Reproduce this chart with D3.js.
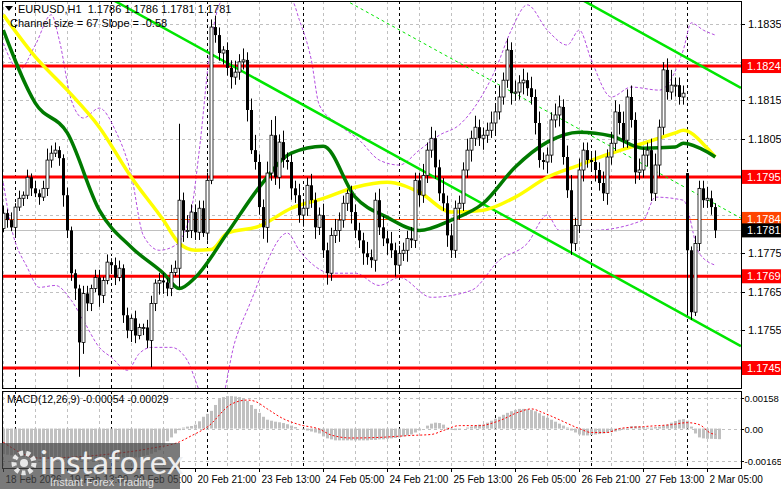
<!DOCTYPE html>
<html><head><meta charset="utf-8">
<script src="https://cdn.jsdelivr.net/npm/d3@7"></script>
<style>body{margin:0;background:#fff}svg{display:block;font-family:"Liberation Sans",Arial,sans-serif}</style>
</head><body><svg id="c" width="781" height="489"></svg>
<script>
// ---- data ----
const closes=[1.17855,1.17837,1.17818,1.17871,1.17894,1.17902,1.17949,1.17920,1.17907,1.17897,1.17920,1.17994,1.18012,1.18020,1.17999,1.17902,1.17810,1.17698,1.17658,1.17517,1.17645,1.17619,1.17658,1.17687,1.17640,1.17679,1.17727,1.17719,1.17687,1.17711,1.17588,1.17548,1.17580,1.17535,1.17556,1.17556,1.17522,1.17619,1.17672,1.17679,1.17674,1.17658,1.17700,1.17711,1.17889,1.17810,1.17810,
1.17858,1.17805,1.17868,1.17803,1.17941,1.18342,1.18321,1.18274,1.18282,1.18235,1.18211,1.18224,1.18251,1.18256,1.18125,1.18020,1.17989,1.17871,1.17818,1.17960,1.18059,1.17949,1.18041,1.17994,1.17989,1.17920,1.17902,1.17850,1.17868,1.17928,1.17889,1.17818,1.17850,1.17758,1.17698,1.17797,1.17810,1.17837,1.17881,1.17907,1.17858,1.17810,1.17784,1.17750,1.17740,
1.17732,1.17889,1.17818,1.17789,1.17776,1.17758,1.17719,1.17750,1.17758,1.17789,1.17784,1.17941,1.17902,1.17954,1.18020,1.18051,1.17975,1.17907,1.17881,1.17797,1.17758,1.17868,1.17881,1.17968,1.18020,1.18051,1.18080,1.18051,1.18059,1.18072,1.18091,1.18120,1.18159,1.18203,1.18282,1.18169,1.18172,1.18196,1.18203,1.18182,1.18159,1.18091,1.17994,1.17989,1.18007,
1.18099,1.18112,1.18133,1.18002,1.17915,1.17776,1.17823,1.17968,1.18020,1.17994,1.17989,1.17968,1.17934,1.17907,1.18002,1.18038,1.18120,1.18091,1.18046,1.18159,1.18099,1.17962,1.17968,1.18007,1.18020,1.17907,1.17981,1.18080,1.18230,1.18172,1.18190,1.18190,1.18159,1.18169,
1.17758,1.17596,1.17776,1.17920,1.17889,1.17894,1.17871,1.17810];
const firstOpen=1.17815, weekendIndex=171, weekendOpen=1.17960;
const wickUp=[2,1,2,1,2,1,2,1,2,1, 2,3,2,2,1,1,2,1,1,1, 2,2,1,2,2,1,2,1,2,2, 1,2,1,2,1,1,2,2,1,2, 2,1,2,2,20,2,4,
2,2,2,2,2,2,3,2,1,2, 2,3,2,3,2,3,4,2,2,3, 4,5,2,3,2,2,2,3,2,2, 3,2,2,3,2,2,3,2,2,1, 2,2,2,2,3,2,2,3,3,2,
3,2,2,2,2,3,2,2,3,2, 3,2,2,4,2,3,2,2,2,3, 2,3,2,2,2,3,2,3,2,3, 2,3,2,3,2,3,2,3,2,2, 2,3,3,2,3,4,2,3,2,2,
2,3,2,3,2,3,3,2,3,2, 3,2,3,2,2,3,3,2,2,3, 4,2,2,2,0,1,2,2,2,3, 2,1];
const wickDn=[1,2,1,2,1,2,1,2,1,2, 1,2,2,1,2,3,2,2,3,9, 3,2,2,1,3,2,1,2,2,1, 2,2,3,2,1,2,2,7,2,3, 3,2,2,1,5,3,2,
2,2,2,1,2,1,2,2,3,2, 3,2,2,2,3,1,2,2,3,4, 2,2,3,2,2,3,2,2,3,2, 2,3,2,2,3,2,2,3,2,2, 3,2,2,3,2,2,3,2,2,3,
2,3,2,2,3,2,2,3,2,2, 2,3,2,2,3,2,2,3,2,2, 3,2,2,3,2,2,3,2,2,2, 3,2,2,3,2,2,3,2,2,3, 2,2,3,2,2,3,2,2,3,2,
2,3,2,2,3,2,2,3,2,2, 2,3,2,2,3,2,2,3,2,2, 2,3,2,2,17,2,1,2,2,2, 2,2];
const maGreen=[[0,1.18334],[8,1.18143],[16,1.18065],[24,1.17863],[32,1.17766],[40,1.17698],[44,1.17658],[48,1.17687],[56,1.17803],[64,1.17923],[72,1.18012],[80,1.18030],[88,1.17897],[96,1.17844],[104,1.17810],[112,1.17837],[120,1.17881],[128,1.17976],[136,1.18041],[144,1.18067],[152,1.18057],[160,1.18025],[168,1.18028],[170,1.18038],[176,1.18015],[178,1.18002]];
const maYellow=[[0,1.18374],[8,1.18264],[16,1.18177],[24,1.18080],[32,1.17949],[40,1.17837],[44,1.17776],[48,1.17758],[52,1.17760],[56,1.17803],[64,1.17821],[72,1.17868],[80,1.17894],[88,1.17923],[96,1.17936],[104,1.17910],[112,1.17858],[120,1.17863],[128,1.17897],[136,1.17949],[144,1.17981],[152,1.18012],[160,1.18038],[168,1.18065],[170,1.18072],[176,1.18025],[178,1.18002]];
const bandUp=[[0,1.18300],[4,1.18230],[8,1.18295],[12,1.18374],[14,1.18308],[17,1.18151],[20,1.18104],[24,1.18130],[28,1.18072],[32,1.17955],[35,1.17797],[39,1.17758],[43,1.17771],[47,1.17863],[49,1.18020],[52,1.18308],[55,1.18413],[72,1.18413],[74,1.18361],[77,1.18256],[79,1.18138],[84,1.18086],[89,1.18046],[94,1.17994],[99,1.17981],[104,1.18020],[109,1.18059],[114,1.18086],[119,1.18151],[123,1.18230],[127,1.18334],[131,1.18400],[136,1.18334],[141,1.18295],[144,1.18334],[147,1.18256],[152,1.18159],[157,1.18185],[164,1.18177],[170,1.18282],[172,1.18353],[175,1.18334],[178,1.18321]];
const bandDn=[[0,1.17934],[2,1.17818],[6,1.17713],[9,1.17661],[13,1.17666],[17,1.17627],[20,1.17575],[24,1.17504],[27,1.17478],[31,1.17444],[34,1.17488],[37,1.17504],[42,1.17504],[46,1.17470],[49,1.17391],[53,1.17313],[58,1.17522],[62,1.17627],[65,1.17706],[71,1.17803],[74,1.17758],[77,1.17724],[82,1.17698],[88,1.17698],[94,1.17666],[99,1.17687],[107,1.17635],[117,1.17653],[124,1.17732],[131,1.17776],[136,1.17850],[139,1.17810],[147,1.17810],[160,1.17837],[163,1.17897],[170,1.17889],[174,1.17750],[178,1.17719]];
const chanLower=[[27.4,1.18413],[184.4,1.17507]];
const chanUpper=[[144.7,1.18413],[184.4,1.18183]];
const chanMid=[[85.4,1.18413],[184.4,1.17842]];
const levels=[1.1824,1.1795,1.1769,1.1745];
const priceTicks=[1.1835,1.1825,1.1815,1.1805,1.1795,1.1785,1.1775,1.1765,1.1755,1.1745];
const tickLabelsShown=["1.1835","1.1815","1.1805","1.1775","1.1765","1.1755"];
const bid=1.1781, askLine=1.1784;
const macdHist=[-130,-133,-136,-139,-142,-145,-148,-150,-152,-154, -155,-155,-154,-153,-152,-152,-153,-155,-158,-160, -162,-163,-163,-162,-160,-158,-155,-152,-150,-148, -146,-145,-145,-146,-147,-140,-135,-128,-120,-110, -85,-65,-45,-25,-8,5,10,
13,20,37,60,75,90,120,150,160,165, 165,163,160,150,140,120,100,80,60,45, 40,35,32,28,22,15,8,0,-5,-10, -15,-20,-25,-40,-50,-55,-60,-60,-60,-60, -60,-60,-60,-60,-60,-58,-58,-55,-55,-52,
-50,-48,-45,-40,-35,-30,-20,-10,0,15, 25,30,28,20,5,-5,-8,-5,0,5, 10,15,20,20,30,40,50,60,70,80, 88,95,100,100,98,95,88,78,65,55, 45,35,25,15,5,-10,-20,-30,-35,-35,
-33,-30,-28,-25,-22,-18,-15,-10,-5,5, 12,12,10,8,5,5,8,10,15,20, 30,38,45,48,40,10,-25,-45,-50,-52, -52,-53,-54];
const macdSignal=[[0,-70],[9,-150],[24,-135],[37,-100],[44,-68],[47,-37],[51,8],[57,124],[61,145],[63,138],[66,100],[70,50],[74,20],[79,-3],[82,-33],[87,-48],[94,-45],[102,-35],[107,-30],[110,-10],[114,15],[119,15],[124,40],[129,85],[132,100],[135,80],[139,45],[144,0],[147,-20],[151,-20],[154,0],[160,10],[167,20],[171,30],[174,20],[177,-25],[178,-29]];
const macdTicks=[["0.00158",0.00158],["0.00",0],["-0.00165",-0.00165]];
const timeLabels=["18 Feb 2026","19 Feb 13:00","20 Feb 05:00","20 Feb 21:00","23 Feb 13:00","24 Feb 05:00","24 Feb 21:00","25 Feb 13:00","26 Feb 05:00","26 Feb 21:00","27 Feb 13:00","2 Mar 05:00"];
const header="EURUSD,H1  1.1786 1.1786 1.1781 1.1781";
const sub="Channel size = 67 Slope = -0.58";
const macdTitle="MACD(12,26,9) -0.00054 -0.00029";

// ---- drawing ----
const svg=d3.select("#c");
const L=2,R=741,T=1,B=388,MT=391,MB=468;
const x=d3.scaleLinear().domain([0,178]).range([3.3,715.3]);
const y=d3.scaleLinear().domain([1.1835,1.1745]).range([24,368]);
const ym=d3.scaleLinear().domain([0.00158,-0.00165]).range([397.5,461]);
const candles=closes.map((c,i)=>{const o=i===0?firstOpen:(i===weekendIndex?weekendOpen:closes[i-1]);
 return {i,o,c,h:Math.max(o,c)+wickUp[i]*1e-4,l:Math.min(o,c)-wickDn[i]*1e-4};});
const defs=svg.append("defs");
defs.append("clipPath").attr("id","mc").append("rect").attr("x",L).attr("y",T).attr("width",R-L).attr("height",B-T);
defs.append("clipPath").attr("id","dc").append("rect").attr("x",L).attr("y",MT).attr("width",R-L).attr("height",MB-MT);
const g=svg.append("g").attr("clip-path","url(#mc)");
const gm=svg.append("g").attr("clip-path","url(#dc)");
const vgrid=d3.range(0,179,8);
[g,gm].forEach((gg,k)=>{
 gg.selectAll(null).data(vgrid).join("line").attr("x1",d=>Math.round(x(d))+.5).attr("x2",d=>Math.round(x(d))+.5)
  .attr("y1",k?MT:T).attr("y2",k?MB:B).attr("stroke","#c0c0c0").attr("stroke-dasharray","3,3");
 gg.selectAll(null).data(d3.range(3,179,24)).join("line").attr("x1",d=>Math.round(x(d))+.5).attr("x2",d=>Math.round(x(d))+.5)
  .attr("y1",k?MT:T).attr("y2",k?MB:B).attr("stroke","#000").attr("stroke-dasharray","3,3");
});
g.selectAll(null).data(priceTicks).join("line").attr("x1",L).attr("x2",R).attr("y1",d=>Math.round(y(d))+.5).attr("y2",d=>Math.round(y(d))+.5)
 .attr("stroke","#c0c0c0").attr("stroke-dasharray","3,3");
gm.selectAll(null).data([0.00158,0,-0.00165]).join("line").attr("x1",L).attr("x2",R).attr("y1",d=>Math.round(ym(d))+.5).attr("y2",d=>Math.round(ym(d))+.5)
 .attr("stroke","#c0c0c0").attr("stroke-dasharray","3,3");
const ln=d3.line().x(d=>x(d[0])).y(d=>y(d[1])).curve(d3.curveMonotoneX);
[bandUp,bandDn].forEach(b=>g.append("path").attr("d",ln(b)).attr("fill","none").attr("stroke","#b44ee0").attr("stroke-width",1).attr("stroke-dasharray","3,2"));
g.selectAll(null).data(levels).join("line").attr("x1",L).attr("x2",R).attr("y1",d=>y(d)).attr("y2",d=>y(d)).attr("stroke","#ff0000").attr("stroke-width",3);
g.append("line").attr("x1",L).attr("x2",R).attr("y1",Math.round(y(askLine))+.5).attr("y2",Math.round(y(askLine))+.5).attr("stroke","#ff4500");
g.append("line").attr("x1",L).attr("x2",R).attr("y1",Math.round(y(bid))+.5).attr("y2",Math.round(y(bid))+.5).attr("stroke","#c0c0c0");
const sl=d3.line().x(d=>x(d[0])).y(d=>y(d[1]));
g.append("path").attr("d",sl(chanLower)).attr("stroke","#00e600").attr("stroke-width",2.5).attr("fill","none");
g.append("path").attr("d",sl(chanUpper)).attr("stroke","#00e600").attr("stroke-width",2.5).attr("fill","none");
g.append("path").attr("d",sl(chanMid)).attr("stroke","#00e600").attr("stroke-width",1).attr("stroke-dasharray","3,3").attr("fill","none");
g.append("path").attr("d",ln(maYellow)).attr("stroke","#ffff00").attr("stroke-width",3.5).attr("fill","none");
g.append("path").attr("d",ln(maGreen)).attr("stroke","#007a00").attr("stroke-width",3.5).attr("fill","none");
const cg=g.selectAll(null).data(candles).join("g");
cg.append("line").attr("x1",d=>Math.round(x(d.i))+.5).attr("x2",d=>Math.round(x(d.i))+.5).attr("y1",d=>y(d.h)).attr("y2",d=>y(d.l)).attr("stroke","#000");
cg.append("rect").attr("x",d=>Math.round(x(d.i))-1).attr("width",3)
 .attr("y",d=>y(Math.max(d.o,d.c))).attr("height",d=>Math.max(1,Math.abs(y(d.o)-y(d.c))))
 .attr("fill",d=>d.c>=d.o?"#fff":"#000").attr("stroke","#000").attr("stroke-width",d=>d.c>=d.o?0.8:0);
gm.selectAll(null).data(macdHist).join("rect").attr("x",(d,i)=>Math.round(x(i))-1).attr("width",3)
 .attr("y",d=>Math.min(ym(d*1e-5),ym(0))).attr("height",d=>Math.abs(ym(d*1e-5)-ym(0))).attr("fill","#c0c0c0");
gm.append("path").attr("d",d3.line().x(d=>x(d[0])).y(d=>ym(d[1]*1e-5)).curve(d3.curveMonotoneX)(macdSignal))
 .attr("stroke","#ff0000").attr("stroke-width",1).attr("stroke-dasharray","2,2").attr("fill","none");
svg.append("rect").attr("x",L+.5).attr("y",T+.5).attr("width",R-L).attr("height",B-T).attr("fill","none").attr("stroke","#000");
svg.append("rect").attr("x",L+.5).attr("y",MT+.5).attr("width",R-L).attr("height",MB-MT).attr("fill","none").attr("stroke","#000");
const fs=11;
priceTicks.forEach(p=>{const s=p.toFixed(4);
 svg.append("line").attr("x1",R).attr("x2",R+4).attr("y1",Math.round(y(p))+.5).attr("y2",Math.round(y(p))+.5).attr("stroke","#000");
 if(tickLabelsShown.includes(s)) svg.append("text").attr("x",R+7).attr("y",y(p)+4).attr("font-size",fs).text(s);});
function tag(p,bg,fg){svg.append("rect").attr("x",R+1).attr("y",y(p)-7).attr("width",39).attr("height",14).attr("fill",bg);
 svg.append("text").attr("x",R+6).attr("y",y(p)+4).attr("font-size",fs).attr("fill",fg).text(p.toFixed(4));}
levels.forEach(p=>tag(p,"#ff0000","#fff"));
tag(askLine,"#ff4500","#fff"); tag(bid,"#000","#fff");
macdTicks.forEach(([s,v])=>{svg.append("line").attr("x1",R).attr("x2",R+3).attr("y1",Math.round(ym(v))+.5).attr("y2",Math.round(ym(v))+.5).attr("stroke","#000");
 svg.append("text").attr("x",R+3.5).attr("y",ym(v)+4).attr("font-size",9.5).text(s);});
timeLabels.forEach((t,k)=>{const xx=Math.round(x(k*16))+.5;
 svg.append("line").attr("x1",xx).attr("x2",xx).attr("y1",MB).attr("y2",MB+4).attr("stroke","#000");
 svg.append("text").attr("x",xx+2).attr("y",483).attr("font-size",10).text(t);});
svg.append("path").attr("d","M5,6 L13,6 L9,11 Z").attr("fill","#000");
svg.append("text").attr("x",18).attr("y",13).attr("font-size",fs).attr("xml:space","preserve").style("white-space","pre").text(header);
svg.append("text").attr("x",10).attr("y",27).attr("font-size",fs).text(sub);
svg.append("text").attr("x",7).attr("y",403).attr("font-size",fs-0.5).text(macdTitle);
const wm=svg.append("g");
wm.append("rect").attr("x",0).attr("y",443).attr("width",180).attr("height",46).attr("fill","rgba(70,70,70,0.72)");
wm.append("circle").attr("cx",24).attr("cy",463).attr("r",10).attr("fill","none").attr("stroke","#e8e8e8").attr("stroke-width",5).attr("stroke-dasharray","4,3");
wm.append("circle").attr("cx",24).attr("cy",463).attr("r",4).attr("fill","#e8e8e8");
wm.append("text").attr("x",40).attr("y",474).attr("font-size",33).attr("fill","#eeeeee").attr("font-family","Lato, sans-serif").text("instaforex");
wm.append("text").attr("x",50).attr("y",486).attr("font-size",11).attr("fill","#e0e0e0").text("Instant Forex Trading");
</script></body></html>
